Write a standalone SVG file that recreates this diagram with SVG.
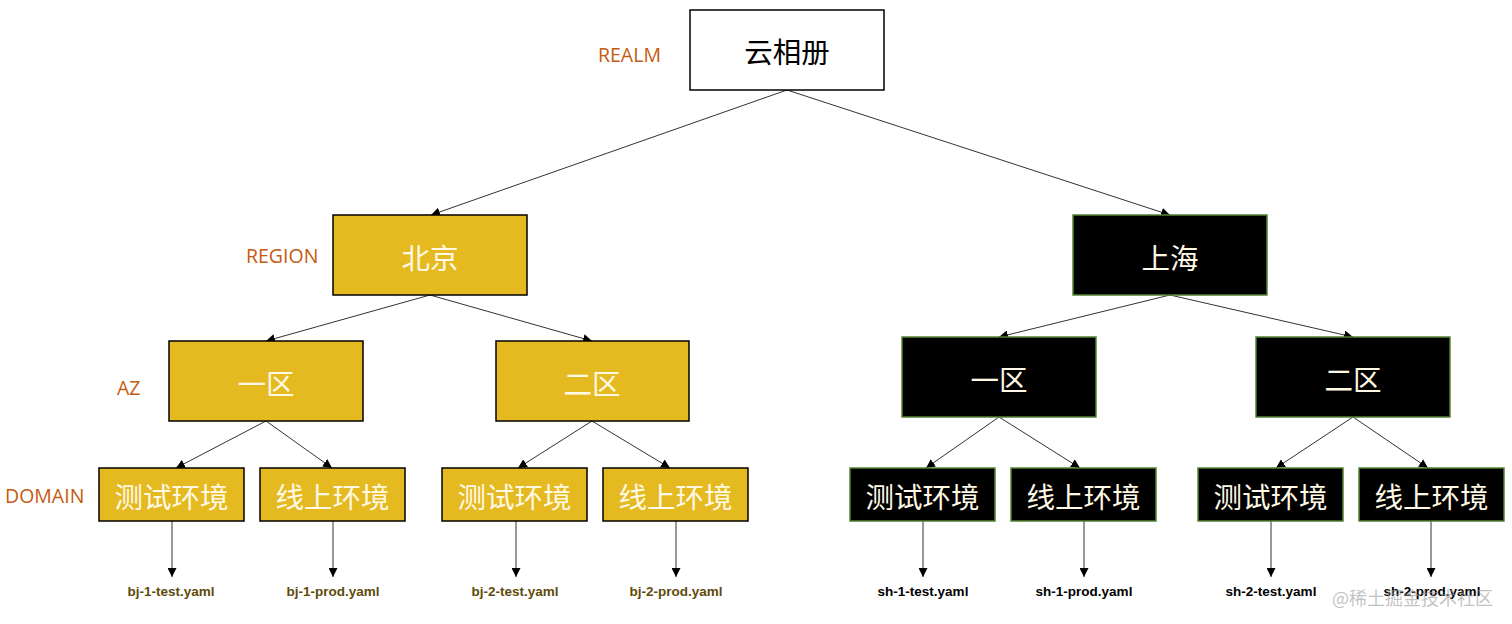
<svg xmlns="http://www.w3.org/2000/svg" width="1512" height="624" viewBox="0 0 1512 624">
<style>
.bg{fill:#ffffff}
.root{fill:#ffffff;stroke:#000;stroke-width:1.5}
.gold{fill:#E5B920;stroke:#000;stroke-width:1.5}
.dark{fill:#000;stroke:#548235;stroke-width:1.5}
.cjk{font-family:"Noto Sans CJK SC","Noto Sans",sans-serif;font-size:28.5px;text-anchor:middle;dominant-baseline:central}
.wt{fill:#FFF9E6}
.bt{fill:#000}
.lvl{font-family:"Open Sans","Liberation Sans",sans-serif;font-size:19.5px;fill:#C55A11;dominant-baseline:central}
.file{font-family:"Liberation Sans",Arial,sans-serif;font-size:13.5px;font-weight:bold;text-anchor:middle;dominant-baseline:central}
.fb{fill:#5E4B0B}
.fs{fill:#000}
.edge{stroke:#333;stroke-width:1;fill:none;marker-end:url(#arr)}
</style>
<defs>
<marker id="arr" viewBox="0 0 10 10" refX="10" refY="5" markerWidth="9" markerHeight="9" markerUnits="userSpaceOnUse" orient="auto">
<path d="M0,0 L10,5 L0,10 z" fill="#000"/>
</marker>
</defs>
<rect class="bg" x="0" y="0" width="1512" height="624"/>

<g id="levels">
<text class="lvl" x="598" y="54">REALM</text>
<text class="lvl" x="246" y="255">REGION</text>
<text class="lvl" x="117" y="387">AZ</text>
<text class="lvl" x="5" y="495">DOMAIN</text>
</g>

<g id="connectors">
<line class="edge" x1="787" y1="90" x2="431" y2="215"/>
<line class="edge" x1="787" y1="90" x2="1170" y2="215"/>
<line class="edge" x1="430" y1="295" x2="266" y2="341"/>
<line class="edge" x1="430" y1="295" x2="592" y2="341"/>
<line class="edge" x1="1170" y1="295" x2="999" y2="337"/>
<line class="edge" x1="1170" y1="295" x2="1353" y2="337"/>
<line class="edge" x1="266" y1="421" x2="176" y2="468"/>
<line class="edge" x1="266" y1="421" x2="332" y2="468"/>
<line class="edge" x1="592" y1="421" x2="518" y2="468"/>
<line class="edge" x1="592" y1="421" x2="670" y2="468"/>
<line class="edge" x1="999" y1="417" x2="926" y2="468"/>
<line class="edge" x1="999" y1="417" x2="1080" y2="468"/>
<line class="edge" x1="1353" y1="417" x2="1276" y2="468"/>
<line class="edge" x1="1353" y1="417" x2="1428" y2="468"/>
<line class="edge" x1="172" y1="521" x2="172" y2="577"/>
<line class="edge" x1="333" y1="521" x2="333" y2="577"/>
<line class="edge" x1="516" y1="521" x2="516" y2="577"/>
<line class="edge" x1="676" y1="521" x2="676" y2="577"/>
<line class="edge" x1="923" y1="521" x2="923" y2="577"/>
<line class="edge" x1="1084" y1="521" x2="1084" y2="577"/>
<line class="edge" x1="1271" y1="521" x2="1271" y2="577"/>
<line class="edge" x1="1431" y1="521" x2="1431" y2="577"/>
</g>

<g id="n-root"><rect class="root" x="690" y="10" width="194" height="80"/><text class="cjk bt" x="787" y="50">云相册</text></g>

<g id="n-bj"><rect class="gold" x="333" y="215" width="194" height="80"/><text class="cjk wt" x="430" y="256">北京</text></g>
<g id="n-sh"><rect class="dark" x="1073" y="215" width="194" height="80"/><text class="cjk wt" x="1170" y="256">上海</text></g>

<g id="n-bj-1"><rect class="gold" x="169" y="341" width="194" height="80"/><text class="cjk wt" x="266" y="382">一区</text></g>
<g id="n-bj-2"><rect class="gold" x="496" y="341" width="193" height="80"/><text class="cjk wt" x="592" y="382">二区</text></g>
<g id="n-sh-1"><rect class="dark" x="902" y="337" width="194" height="80"/><text class="cjk wt" x="999" y="378">一区</text></g>
<g id="n-sh-2"><rect class="dark" x="1256" y="337" width="194" height="80"/><text class="cjk wt" x="1353" y="378">二区</text></g>

<g id="n-bj-1-test"><rect class="gold" x="99" y="468" width="145" height="53"/><text class="cjk wt" x="171.5" y="495">测试环境</text></g>
<g id="n-bj-1-prod"><rect class="gold" x="260" y="468" width="145" height="53"/><text class="cjk wt" x="332.5" y="495">线上环境</text></g>
<g id="n-bj-2-test"><rect class="gold" x="442" y="468" width="145" height="53"/><text class="cjk wt" x="514.5" y="495">测试环境</text></g>
<g id="n-bj-2-prod"><rect class="gold" x="603" y="468" width="145" height="53"/><text class="cjk wt" x="675.5" y="495">线上环境</text></g>
<g id="n-sh-1-test"><rect class="dark" x="850" y="468" width="145" height="53"/><text class="cjk wt" x="922.5" y="495">测试环境</text></g>
<g id="n-sh-1-prod"><rect class="dark" x="1011" y="468" width="145" height="53"/><text class="cjk wt" x="1083.5" y="495">线上环境</text></g>
<g id="n-sh-2-test"><rect class="dark" x="1198" y="468" width="145" height="53"/><text class="cjk wt" x="1270.5" y="495">测试环境</text></g>
<g id="n-sh-2-prod"><rect class="dark" x="1359" y="468" width="145" height="53"/><text class="cjk wt" x="1431.5" y="495">线上环境</text></g>

<g id="files">
<text class="file fb" x="171" y="591">bj-1-test.yaml</text>
<text class="file fb" x="333" y="591">bj-1-prod.yaml</text>
<text class="file fb" x="515" y="591">bj-2-test.yaml</text>
<text class="file fb" x="676" y="591">bj-2-prod.yaml</text>
<text class="file fs" x="923" y="591">sh-1-test.yaml</text>
<text class="file fs" x="1084" y="591">sh-1-prod.yaml</text>
<text class="file fs" x="1271" y="591">sh-2-test.yaml</text>
<text class="file fs" x="1432" y="591">sh-2-prod.yaml</text>
</g>

<text x="1332" y="597" font-family="'Noto Sans CJK SC',sans-serif" font-size="18" fill="#999" fill-opacity="0.6" dominant-baseline="central">@稀土掘金技术社区</text>
</svg>
